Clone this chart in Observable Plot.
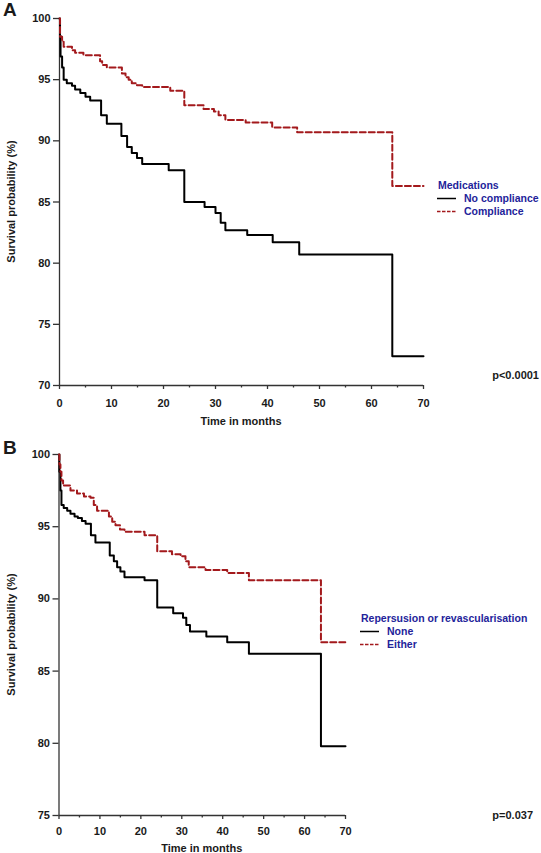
<!DOCTYPE html>
<html>
<head>
<meta charset="utf-8">
<script src="https://cdn.jsdelivr.net/npm/d3@7"></script>
<script src="https://cdn.jsdelivr.net/npm/@observablehq/plot@0.6"></script>
<style>
  html, body { margin: 0; padding: 0; background: #fff; }
  #wrap { width: 541px; height: 853px; overflow: hidden; }
  #wrap svg { display: block; }
</style>
</head>
<body>
<div id="wrap"></div>
<script>
// ---------- Data ----------
// Panel A: Medications
const monthsA_noCompliance = [0, 0.1, 0.2, 0.5, 0.8, 1.4, 2.4, 3.0, 4.0, 5.0, 5.9, 8.0, 9.1, 11.9, 13.0, 13.9, 14.9, 15.9, 21.0, 24.0, 27.9, 30.0, 31.0, 31.9, 36.1, 41.0, 46.1, 64.0, 70];
const survA_noCompliance   = [100, 98.6, 96.9, 96.0, 95.0, 94.7, 94.5, 94.2, 93.9, 93.6, 93.3, 92.1, 91.4, 90.4, 89.5, 89.0, 88.6, 88.1, 87.6, 85.0, 84.6, 84.1, 83.3, 82.7, 82.3, 81.7, 80.7, 72.4, 72.4];
const monthsA_compliance   = [0, 0.1, 0.5, 0.8, 2.4, 3.0, 4.6, 7.8, 8.2, 9.1, 12.0, 12.7, 13.3, 13.9, 14.9, 15.9, 21.3, 24.0, 27.7, 29.7, 30.6, 31.9, 35.8, 40.9, 45.7, 64.0, 70];
const survA_compliance     = [100, 98.5, 98.1, 97.7, 97.4, 97.2, 97.0, 96.5, 96.2, 96.0, 95.5, 95.2, 95.0, 94.7, 94.55, 94.4, 94.1, 92.9, 92.6, 92.4, 92.1, 91.7, 91.5, 91.1, 90.7, 86.3, 86.3];

// Panel B: Repersusion or revascularisation
const monthsB_none   = [0, 0.1, 0.35, 0.6, 1.15, 2.0, 2.8, 3.8, 4.6, 5.6, 6.5, 7.8, 8.9, 12.4, 13.4, 14.2, 15.0, 16.0, 20.9, 24.0, 27.9, 30.3, 31.1, 32.0, 36.0, 41.1, 46.4, 64.0, 70];
const survB_none     = [100, 98.8, 97.5, 96.5, 96.3, 96.1, 95.9, 95.7, 95.6, 95.4, 95.2, 94.4, 93.9, 93.0, 92.6, 92.2, 91.9, 91.5, 91.3, 89.4, 89.0, 88.7, 88.2, 87.75, 87.4, 87.0, 86.2, 79.8, 79.8];
const monthsB_either = [0, 0.1, 0.35, 0.6, 1.0, 2.8, 4.4, 6.1, 7.7, 8.5, 9.3, 12.2, 13.0, 13.8, 14.9, 16.0, 20.9, 24.0, 27.6, 29.7, 30.9, 31.7, 35.8, 41.1, 46.4, 64.0, 70];
const survB_either   = [100, 99.3, 98.8, 98.2, 97.85, 97.5, 97.3, 97.1, 97.0, 96.5, 96.1, 95.7, 95.35, 95.1, 94.8, 94.65, 94.4, 93.3, 93.1, 92.95, 92.6, 92.2, 92.0, 91.8, 91.3, 87.0, 87.0];

// Tick labels
const xMajorTicks = [0, 10, 20, 30, 40, 50, 60, 70];
const xMinorTicks = [5, 15, 25, 35, 45, 55, 65];
const yTicksA = [70, 75, 80, 85, 90, 95, 100];
const yTicksB = [75, 80, 85, 90, 95, 100];

// Texts
const panelLabels = ["A", "B"];
const legendTitles = ["Medications", "Repersusion or revascularisation"];
const seriesNamesA = ["No compliance", "Compliance"];
const seriesNamesB = ["None", "Either"];
const pValues = ["p<0.0001", "p=0.037"];
const xTitle = "Time in months";
const yTitle = "Survival probability (%)";

// ---------- Drawing ----------
const FONT = "'Liberation Sans', Arial, Helvetica, sans-serif";
const RED = "#a3191c";
const BLUE = "#23239a";
const AXIS = "#333";

function toRows(months, surv) { return months.map((m, i) => ({m, s: surv[i]})); }

function panel(cfg) {
  const chart = Plot.plot({
    width: 541,
    height: cfg.height,
    marginTop: cfg.marginTop,
    marginBottom: cfg.marginBottom,
    marginLeft: cfg.marginLeft,
    marginRight: cfg.marginRight,
    style: {fontFamily: FONT, fontSize: "11px", fontWeight: "bold", color: "#1a1a1a", background: "#fff"},
    x: {domain: [0, 70]},
    y: {domain: [cfg.yTicks[0], 100]},
    marks: [
      Plot.axisY({ticks: cfg.yTicks, tickSize: 6, tickPadding: 3, label: null, stroke: AXIS, strokeWidth: 1.3}),
      Plot.axisX({ticks: xMajorTicks, tickSize: 4, tickPadding: cfg.xPad, label: null, stroke: AXIS, strokeWidth: 1.3}),
      Plot.axisX({ticks: xMinorTicks, tickSize: 2.5, text: null, label: null, stroke: AXIS, strokeWidth: 1.3}),
      Plot.ruleX([0], {stroke: AXIS, strokeWidth: 1.3}),
      Plot.ruleY([cfg.yTicks[0]], {stroke: AXIS, strokeWidth: 1.3}),
      Plot.line(toRows(cfg.m1, cfg.s1), {x: "m", y: "s", curve: "step-after", stroke: "#000", strokeWidth: 2}),
      Plot.line(toRows(cfg.m2, cfg.s2), {x: "m", y: "s", curve: "step-after", stroke: RED, strokeWidth: 2, strokeDasharray: "6,3"})
    ]
  });
  const svg = d3.select(chart);
  const xs = chart.scale("x"), ys = chart.scale("y");
  const x0 = xs.apply(0), x70 = xs.apply(70);
  const yTop = ys.apply(100), yBot = ys.apply(cfg.yTicks[0]);

  const txt = (x, y, s, opt = {}) => svg.append("text")
      .attr("x", x).attr("y", y).attr("dy", "0.35em")
      .attr("font-family", FONT).attr("font-weight", "bold")
      .attr("font-size", opt.size || 11)
      .attr("fill", opt.fill || "#1a1a1a")
      .attr("text-anchor", opt.anchor || "start")
      .text(s);

  // panel label
  txt(3, cfg.labelY, cfg.label, {size: 19});
  // x title
  txt((x0 + x70) / 2, yBot + cfg.xTitleOffset, xTitle, {anchor: "middle"});
  // y title
  const yc = (yTop + yBot) / 2;
  svg.append("text")
    .attr("transform", `translate(11,${yc}) rotate(-90)`)
    .attr("dy", "0.35em").attr("text-anchor", "middle")
    .attr("font-family", FONT).attr("font-weight", "bold").attr("font-size", 11)
    .attr("fill", "#1a1a1a").text(yTitle);

  // legend
  const lx = cfg.legendX, ly = cfg.legendY;
  txt(lx + 1, ly, cfg.legendTitle, {fill: BLUE, size: 10.5});
  svg.append("line").attr("x1", lx).attr("x2", lx + 19).attr("y1", ly + 13.5).attr("y2", ly + 13.5)
    .attr("stroke", "#000").attr("stroke-width", 1.5);
  svg.append("line").attr("x1", lx).attr("x2", lx + 19).attr("y1", ly + 26.5).attr("y2", ly + 26.5)
    .attr("stroke", RED).attr("stroke-width", 1.5).attr("stroke-dasharray", "3.5,1.5");
  txt(lx + 27, ly + 13.5, cfg.names[0], {fill: BLUE, size: 10.5});
  txt(lx + 27, ly + 26.5, cfg.names[1], {fill: BLUE, size: 10.5});

  // p value
  txt(cfg.pRight, yBot + cfg.pOffset, cfg.p, {anchor: "end"});
  return chart;
}

const wrap = document.getElementById("wrap");
wrap.append(panel({
  height: 430, marginTop: 18, marginBottom: 45, marginLeft: 59, marginRight: 118,
  yTicks: yTicksA, xPad: 10, xTitleOffset: 36,
  m1: monthsA_noCompliance, s1: survA_noCompliance,
  m2: monthsA_compliance, s2: survA_compliance,
  label: panelLabels[0], labelY: 9,
  legendTitle: legendTitles[0], names: seriesNamesA, legendX: 437, legendY: 185,
  p: pValues[0], pRight: 539, pOffset: -10
}));
wrap.append(panel({
  height: 423, marginTop: 24, marginBottom: 38, marginLeft: 58.5, marginRight: 196,
  yTicks: yTicksB, xPad: 8, xTitleOffset: 33,
  m1: monthsB_none, s1: survB_none,
  m2: monthsB_either, s2: survB_either,
  label: panelLabels[1], labelY: 17,
  legendTitle: legendTitles[1], names: seriesNamesB, legendX: 360, legendY: 188,
  p: pValues[1], pRight: 533, pOffset: 0
}));
</script>
</body>
</html>
